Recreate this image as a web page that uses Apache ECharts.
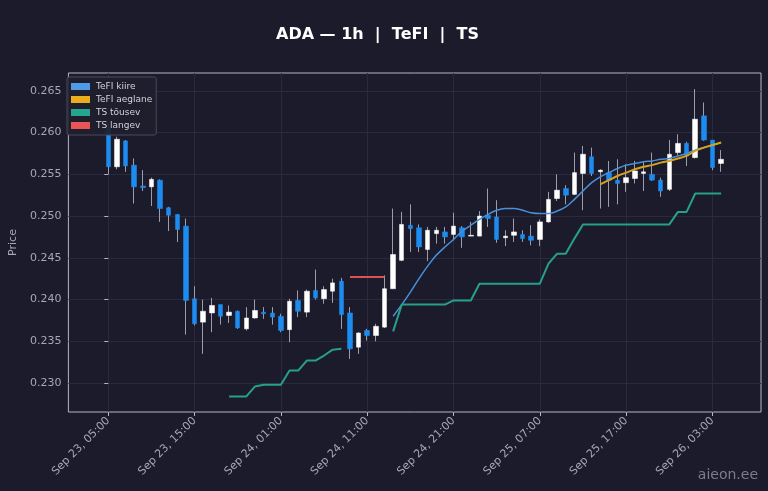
<!DOCTYPE html>
<html>
<head>
<meta charset="utf-8">
<title>ADA 1h TeFI TS</title>
<script src="https://cdn.jsdelivr.net/npm/echarts@6/dist/echarts.min.js"></script>
<style>
  html, body { margin: 0; padding: 0; background: #1b1b2b; }
  #chart { width: 768px; height: 491px; }
</style>
</head>
<body>
<div id="chart"></div>
<script>
// x = hours since Sep 23 05:00 (one candle per hour)
const tickHours = [0, 10, 20, 30, 40, 50, 60, 70];
const tickLabels = ['Sep 23, 05:00', 'Sep 23, 15:00', 'Sep 24, 01:00', 'Sep 24, 11:00',
                    'Sep 24, 21:00', 'Sep 25, 07:00', 'Sep 25, 17:00', 'Sep 26, 03:00'];
const priceTicks = [0.230, 0.235, 0.240, 0.245, 0.250, 0.255, 0.260, 0.265];

const opens = [
    0.2605, 0.2559, 0.2590, 0.2561, 0.2536, 0.2535, 0.2543, 0.2510, 0.2502, 0.2488,
    0.2401, 0.2373, 0.2384, 0.2394, 0.2381, 0.2386, 0.2365, 0.2378, 0.2385, 0.2384,
    0.2380, 0.2364, 0.2399, 0.2385, 0.2411, 0.2401, 0.2410, 0.2422, 0.2384, 0.2343,
    0.2363, 0.2357, 0.2367, 0.2413, 0.2447, 0.2489, 0.2486, 0.2460, 0.2479, 0.2481,
    0.2478, 0.2486, 0.2476, 0.2476, 0.2501, 0.2499, 0.2474, 0.2477, 0.2478, 0.2476,
    0.2472, 0.2493, 0.2521, 0.2533, 0.2526, 0.2551, 0.2571, 0.2553, 0.2552, 0.2543,
    0.2540, 0.2545, 0.2551, 0.2550, 0.2543, 0.2532, 0.2576, 0.2587, 0.2570, 0.2620,
    0.2591, 0.2563
];
const closes = [
    0.2559, 0.2592, 0.2560, 0.2535, 0.2534, 0.2544, 0.2509, 0.2501, 0.2484, 0.2399,
    0.2371, 0.2386, 0.2393, 0.2380, 0.2385, 0.2366, 0.2378, 0.2387, 0.2383, 0.2379,
    0.2363, 0.2398, 0.2386, 0.2410, 0.2402, 0.2412, 0.2420, 0.2382, 0.2341, 0.2360,
    0.2357, 0.2368, 0.2413, 0.2454, 0.2490, 0.2485, 0.2463, 0.2483, 0.2483, 0.2475,
    0.2488, 0.2475, 0.2477, 0.2500, 0.2497, 0.2472, 0.2476, 0.2481, 0.2473, 0.2471,
    0.2493, 0.2520, 0.2531, 0.2525, 0.2552, 0.2574, 0.2551, 0.2555, 0.2543, 0.2539,
    0.2546, 0.2554, 0.2553, 0.2543, 0.2530, 0.2574, 0.2587, 0.2572, 0.2616, 0.2591,
    0.2558, 0.2568
];
const lows = [
    0.2550, 0.2556, 0.2553, 0.2515, 0.2530, 0.2512, 0.2493, 0.2482, 0.2469, 0.2358,
    0.2369, 0.2335, 0.2361, 0.2370, 0.2372, 0.2365, 0.2363, 0.2377, 0.2377, 0.2370,
    0.2361, 0.2349, 0.2379, 0.2379, 0.2400, 0.2395, 0.2396, 0.2365, 0.2329, 0.2335,
    0.2351, 0.2350, 0.2366, 0.2413, 0.2446, 0.2457, 0.2457, 0.2446, 0.2467, 0.2467,
    0.2471, 0.2462, 0.2476, 0.2476, 0.2487, 0.2468, 0.2464, 0.2469, 0.2469, 0.2465,
    0.2464, 0.2492, 0.2518, 0.2514, 0.2525, 0.2507, 0.2548, 0.2509, 0.2511, 0.2514,
    0.2529, 0.2539, 0.2530, 0.2542, 0.2523, 0.2530, 0.2573, 0.2560, 0.2569, 0.2590,
    0.2555, 0.2553
];
const highs = [
    0.2612, 0.2595, 0.2591, 0.2569, 0.2555, 0.2546, 0.2544, 0.2511, 0.2502, 0.2497,
    0.2416, 0.2400, 0.2402, 0.2394, 0.2393, 0.2387, 0.2391, 0.2400, 0.2391, 0.2391,
    0.2383, 0.2401, 0.2411, 0.2412, 0.2436, 0.2416, 0.2425, 0.2426, 0.2391, 0.2361,
    0.2365, 0.2371, 0.2429, 0.2509, 0.2505, 0.2514, 0.2490, 0.2487, 0.2487, 0.2487,
    0.2504, 0.2488, 0.2493, 0.2506, 0.2533, 0.2519, 0.2483, 0.2497, 0.2483, 0.2489,
    0.2496, 0.2529, 0.2550, 0.2537, 0.2576, 0.2584, 0.2582, 0.2556, 0.2566, 0.2568,
    0.2562, 0.2566, 0.2565, 0.2576, 0.2546, 0.2591, 0.2598, 0.2589, 0.2652, 0.2636,
    0.2591, 0.2579
];

// indicators, one value per candle (null = not drawn)
const N = opens.length;
const pad = n => new Array(n).fill(null);

const tefiFast = pad(33).concat([
    0.2380, 0.2394, 0.2409, 0.2425, 0.2440, 0.2453, 0.2463, 0.2472, 0.2482, 0.2489,
    0.2496, 0.2502, 0.2507, 0.2509, 0.2509, 0.2507, 0.2504, 0.2503, 0.2503, 0.2506,
    0.2511, 0.2520, 0.2530, 0.2540, 0.2547, 0.2552, 0.2557, 0.2561, 0.2563, 0.2565,
    0.2566, 0.2568, 0.2569, 0.2572, 0.2575, 0.2579, 0.2582, 0.2585, 0.2588
]);
const tefiSlow = pad(57).concat([
    0.2538, 0.2543, 0.2548, 0.2552, 0.2556, 0.2559, 0.2561, 0.2564, 0.2566, 0.2569,
    0.2572, 0.2578, 0.2582, 0.2585, 0.2588
]);
const tsUp = pad(14).concat([
    0.2284, 0.2284, 0.2284, 0.2296, 0.2298, 0.2298, 0.2298, 0.2315, 0.2315, 0.2327,
    0.2327, 0.2333, 0.2340, 0.2341
], pad(5), [
    0.2362, 0.2394, 0.2394, 0.2394, 0.2394, 0.2394, 0.2394, 0.2399, 0.2399, 0.2399,
    0.2419, 0.2419, 0.2419, 0.2419, 0.2419, 0.2419, 0.2419, 0.2419, 0.2443, 0.2455,
    0.2455, 0.2473, 0.2490, 0.2490, 0.2490, 0.2490, 0.2490, 0.2490, 0.2490, 0.2490,
    0.2490, 0.2490, 0.2490, 0.2505, 0.2505, 0.2527, 0.2527, 0.2527, 0.2527
]);
const tsDown = pad(28).concat([0.2427, 0.2427, 0.2427, 0.2427, 0.2427], pad(N - 33));

const xy = arr => arr.map((v, i) => [i, v]);

let wickData = [];
let bodyData = [];
for (let i = 0; i < N; i++) {
    wickData.push([i, opens[i], closes[i], lows[i], highs[i]]);
    bodyData.push([i, opens[i], closes[i], Math.min(opens[i], closes[i]), Math.max(opens[i], closes[i])]);
}

const labelColor = '#a6a6b6';
const frameColor = '#b6b6c4';

let myChart = echarts.init(document.getElementById('chart'));
let option = {
    animation: false,
    backgroundColor: '#1b1b2b',
    title: {
        text: 'ADA \u2014 1h  |  TeFI  |  TS',
        left: 271,
        top: 22,
        textStyle: { color: '#ffffff', fontSize: 16, fontWeight: 'bold', fontFamily: 'DejaVu Sans' }
    },
    legend: {
        data: ['TeFI kiire', 'TeFI aeglane', 'TS t\u00f5usev', 'TS langev'],
        orient: 'vertical',
        left: 67,
        top: 77,
        icon: 'rect',
        itemWidth: 19,
        itemHeight: 7,
        itemGap: 4,
        padding: [5, 4, 5, 4],
        backgroundColor: 'rgba(30, 30, 46, 0.92)',
        borderColor: '#4a4a5c',
        borderWidth: 1,
        borderRadius: 2,
        selectedMode: false,
        textStyle: { color: '#d2d2dc', fontSize: 9, fontFamily: 'DejaVu Sans', padding: [0, 0, 0, 1] }
    },
    grid: {
        left: 63, right: 7, top: 73, bottom: 79,
        show: true,
        borderColor: frameColor,
        borderWidth: 1
    },
    xAxis: {
        type: 'value',
        min: -4.62,
        max: 75.62,
        axisLine: { show: false },
        axisTick: { show: true, length: 4, customValues: tickHours, lineStyle: { color: frameColor } },
        splitLine: { show: true, lineStyle: { color: '#2a2a3e', width: 1 } },
        axisLabel: {
            customValues: tickHours,
            rotate: 45,
            margin: 7,
            color: labelColor,
            fontSize: 11,
            fontFamily: 'DejaVu Sans',
            formatter: v => tickLabels[tickHours.indexOf(Math.round(v))] || ''
        }
    },
    yAxis: {
        type: 'value',
        min: 0.22654,
        max: 0.26713,
        name: 'Price',
        nameLocation: 'middle',
        nameGap: 44,
        nameTextStyle: { color: labelColor, fontSize: 11, fontFamily: 'DejaVu Sans' },
        axisLine: { show: false },
        axisTick: { show: true, length: 4, customValues: priceTicks, lineStyle: { color: frameColor } },
        splitLine: { show: true, lineStyle: { color: '#2a2a3e', width: 1 } },
        axisLabel: {
            customValues: priceTicks,
            margin: 7,
            color: labelColor,
            fontSize: 11,
            fontFamily: 'DejaVu Sans',
            formatter: v => v.toFixed(3)
        }
    },
    series: [
        {
            name: 'wicks',
            type: 'candlestick',
            data: wickData,
            barWidth: 0.5,
            itemStyle: { color: '#9c9caa', color0: '#9c9caa', borderColor: '#9c9caa', borderColor0: '#9c9caa', borderWidth: 1 },
            z: 2
        },
        {
            name: 'bodies',
            type: 'candlestick',
            data: bodyData,
            barWidth: 5,
            itemStyle: { color: '#ffffff', color0: '#1d8cf0', borderColor: '#ffffff', borderColor0: '#1d8cf0', borderWidth: 0.5 },
            z: 3
        },
        {
            name: 'TeFI kiire',
            type: 'line',
            data: xy(tefiFast),
            symbol: 'none',
            smooth: 0.3,
            itemStyle: { color: '#4f9be8' },
            lineStyle: { color: '#4a8fd8', width: 1.5 },
            z: 4
        },
        {
            name: 'TeFI aeglane',
            type: 'line',
            data: xy(tefiSlow),
            symbol: 'none',
            smooth: 0.3,
            itemStyle: { color: '#eaad1e' },
            lineStyle: { color: '#d6a21f', width: 2 },
            z: 5
        },
        {
            name: 'TS t\u00f5usev',
            type: 'line',
            data: xy(tsUp),
            symbol: 'none',
            itemStyle: { color: '#26a68c' },
            lineStyle: { color: '#27a08a', width: 2 },
            z: 4
        },
        {
            name: 'TS langev',
            type: 'line',
            data: xy(tsDown),
            symbol: 'none',
            itemStyle: { color: '#ea5555' },
            lineStyle: { color: '#e05252', width: 2 },
            z: 4
        }
    ],
    graphic: [{
        type: 'text',
        right: 10,
        bottom: 9,
        style: { text: 'aieon.ee', fill: 'rgba(190, 190, 200, 0.6)', fontSize: 14, fontFamily: 'DejaVu Sans' }
    }]
};
myChart.setOption(option);
</script>
</body>
</html>
